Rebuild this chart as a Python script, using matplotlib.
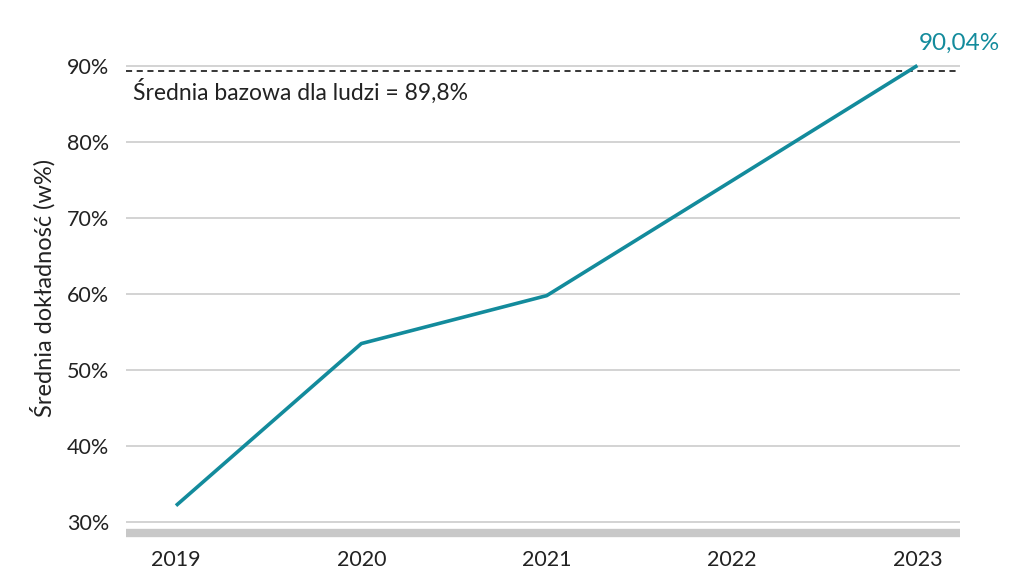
import numpy as np
import matplotlib.pyplot as plt

plt.rcParams['font.family'] = ['Lato', 'DejaVu Sans']

years = [2019, 2020, 2021, 2022, 2023]
accuracy = [32.2, 53.5, 59.8, 74.9, 90.04]
baseline = 89.8
yticks = [30, 40, 50, 60, 70, 80, 90]

teal = '#138b9c'
grid_c = '#c8c8c8'

fig = plt.figure(figsize=(10.24, 5.86), dpi=100)
ax = fig.add_axes([0.123, 0.0904, 0.8145, 0.8362])

for t in yticks:
    ax.axhline(t, color=grid_c, lw=1.1, zorder=1)

ax.axhline(baseline - 0.5, color='black', lw=1.1, ls=(0, (4, 3)), zorder=2)
ax.text(2018.77, baseline - 1.5, 'Średnia bazowa dla ludzi = 89,8%',
        fontsize=16.5, va='top', ha='left', color='#222222')

ax.plot(years, accuracy, color=teal, lw=2.6, zorder=3, solid_capstyle='butt')
ax.text(years[-1] + 0.01, accuracy[-1] + 1.6, '90,04%', color=teal,
        fontsize=17.5, ha='left', va='bottom')

ax.set_xlim(2018.73, 2023.23)
ax.set_ylim(28.6, 93)
ax.set_xticks(years)
ax.set_xticklabels([str(y) for y in years])
ax.set_yticks(yticks)
ax.set_yticklabels([f'{t}%' for t in yticks])
ax.tick_params(axis='both', length=0, labelsize=15.5, colors='#222222')
ax.tick_params(axis='x', pad=12)
ax.tick_params(axis='y', pad=12)

for s in ['top', 'right', 'left']:
    ax.spines[s].set_visible(False)
ax.spines['bottom'].set_color(grid_c)
ax.spines['bottom'].set_linewidth(6)
ax.spines['bottom'].set_capstyle('butt')

ax.set_ylabel('Średnia dokładność (w%)', fontsize=17, color='#222222', labelpad=8)

fig.savefig('out.png', dpi=100)
